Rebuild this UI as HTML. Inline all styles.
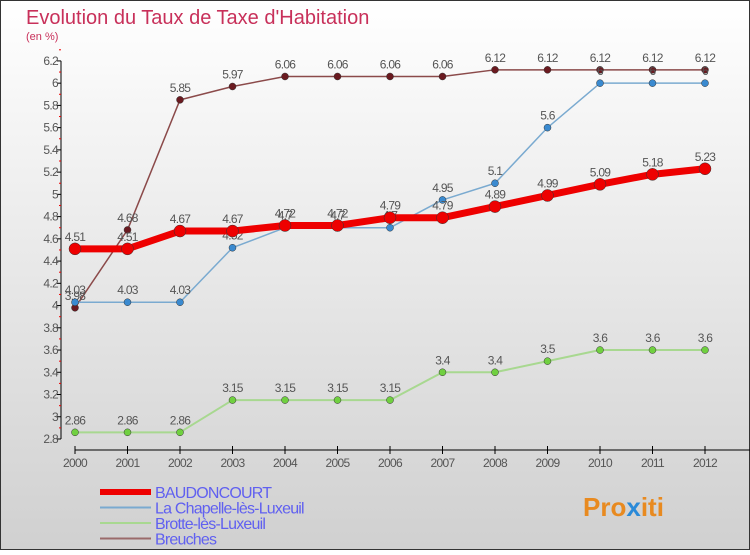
<!DOCTYPE html>
<html><head><meta charset="utf-8"><style>
body{margin:0;width:750px;height:550px;overflow:hidden;font-family:"Liberation Sans",sans-serif}
</style></head><body>
<svg id="c" width="750" height="550" xmlns="http://www.w3.org/2000/svg">
<defs><linearGradient id="bg" x1="0" y1="0" x2="0" y2="1"><stop offset="0" stop-color="#ffffff"/><stop offset="1" stop-color="#d0d0d0"/></linearGradient></defs>
<rect x="0.5" y="0.5" width="749" height="549" fill="url(#bg)" stroke="#333"/>
<text x="26" y="24" font-size="20" fill="#c8305a">Evolution du Taux de Taxe d'Habitation</text>
<text x="26" y="40" font-size="11" fill="#c8305a">(en %)</text>
<g id="axes"></g><g id="series"></g><g id="legend"></g>
<text x="583" y="516" font-size="26" font-weight="bold" fill="#e88a20">Pro<tspan fill="#2a8ad8">x</tspan>iti</text>
</svg>
<script>
const years=[2000,2001,2002,2003,2004,2005,2006,2007,2008,2009,2010,2011,2012];
const baudoncourt=[4.51,4.51,4.67,4.67,4.72,4.72,4.79,4.79,4.89,4.99,5.09,5.18,5.23];
const chapelle=[4.03,4.03,4.03,4.52,4.7,4.7,4.7,4.95,5.1,5.6,6,6,6];
const brotte=[2.86,2.86,2.86,3.15,3.15,3.15,3.15,3.4,3.4,3.5,3.6,3.6,3.6];
const breuches=[3.98,4.68,5.85,5.97,6.06,6.06,6.06,6.06,6.12,6.12,6.12,6.12,6.12];
const yTicks=[2.8,3,3.2,3.4,3.6,3.8,4,4.2,4.4,4.6,4.8,5,5.2,5.4,5.6,5.8,6,6.2];
const NS="http://www.w3.org/2000/svg";
const X=i=>75+i*52.5, Y=v=>439-(v-2.8)*111.2;
function mk(t,a,p){const e=document.createElementNS(NS,t);for(const k in a)e.setAttribute(k,a[k]);p.appendChild(e);return e;}
const ax=document.getElementById('axes');
let l=mk('line',{x1:61,y1:Y(6.2),x2:61,y2:Y(2.8),stroke:'#000'},ax);


yTicks.forEach(v=>{
 mk('line',{x1:57,y1:Y(v),x2:61,y2:Y(v),stroke:'#000'},ax);
 mk('line',{x1:59,y1:Y(v+0.1),x2:61,y2:Y(v+0.1),stroke:'#e00'},ax);
 const t=mk('text',{x:58,y:Y(v)+4,'font-size':12,fill:'#555','text-anchor':'end','letter-spacing':'-0.7'},ax);
 t.textContent=String(v);
 
 
});
l=mk('line',{x1:75,y1:450,x2:750,y2:450,stroke:'#000'},ax);


years.forEach((y,i)=>{
 mk('line',{x1:X(i),y1:446,x2:X(i),y2:454,stroke:'#000'},ax);
 const t=mk('text',{x:X(i),y:467,'font-size':12,fill:'#555','text-anchor':'middle','letter-spacing':'-0.7'},ax);
 t.textContent=y;
 
 
});
const sg=document.getElementById('series');
function draw(data,color,w,r,name,dot){
 const g=mk('g',{},sg);
 
 
 mk('polyline',{points:data.map((v,i)=>X(i)+','+Y(v)).join(' '),fill:'none',stroke:color,'stroke-width':w,'stroke-linejoin':'round'},g);
 data.forEach((v,i)=>{
  const c=mk('circle',{cx:X(i),cy:Y(v),r:r,fill:dot,stroke:'#333','stroke-width':0.5},g);
  
  
  const t=mk('text',{x:X(i),y:Y(v)-8,'font-size':12,fill:'#555','text-anchor':'middle','letter-spacing':'-0.7'},g);
  t.textContent=String(v);
  
  
 });
}
draw(brotte,'#a8d890',2,3.5,'brotte-series','#70d040');
draw(breuches,'#8b4a4a',1.5,3.5,'breuches-series','#6a1a20');
draw(chapelle,'#7aaad0',1.5,3.5,'chapelle-series','#3a8ad0');
draw(baudoncourt,'#ee0000',7,6,'baudoncourt-series','#ee0000');
const lg=document.getElementById('legend');
const items=[['BAUDONCOURT','#ee0000',6],['La Chapelle-lès-Luxeuil','#7aaad0',2],['Brotte-lès-Luxeuil','#a8d890',2],['Breuches','#9a6a6a',2]];
items.forEach((it,i)=>{
 const y=492+i*15.5;
 const ln=mk('line',{x1:100,y1:y,x2:151,y2:y,stroke:it[1],'stroke-width':it[2]},lg);
 
 
 const t=mk('text',{x:155,y:y+6,'font-size':16,fill:'#6060f0','letter-spacing':'-0.8'},lg);
 t.textContent=it[0];
 
 
});
</script>
</body></html>
